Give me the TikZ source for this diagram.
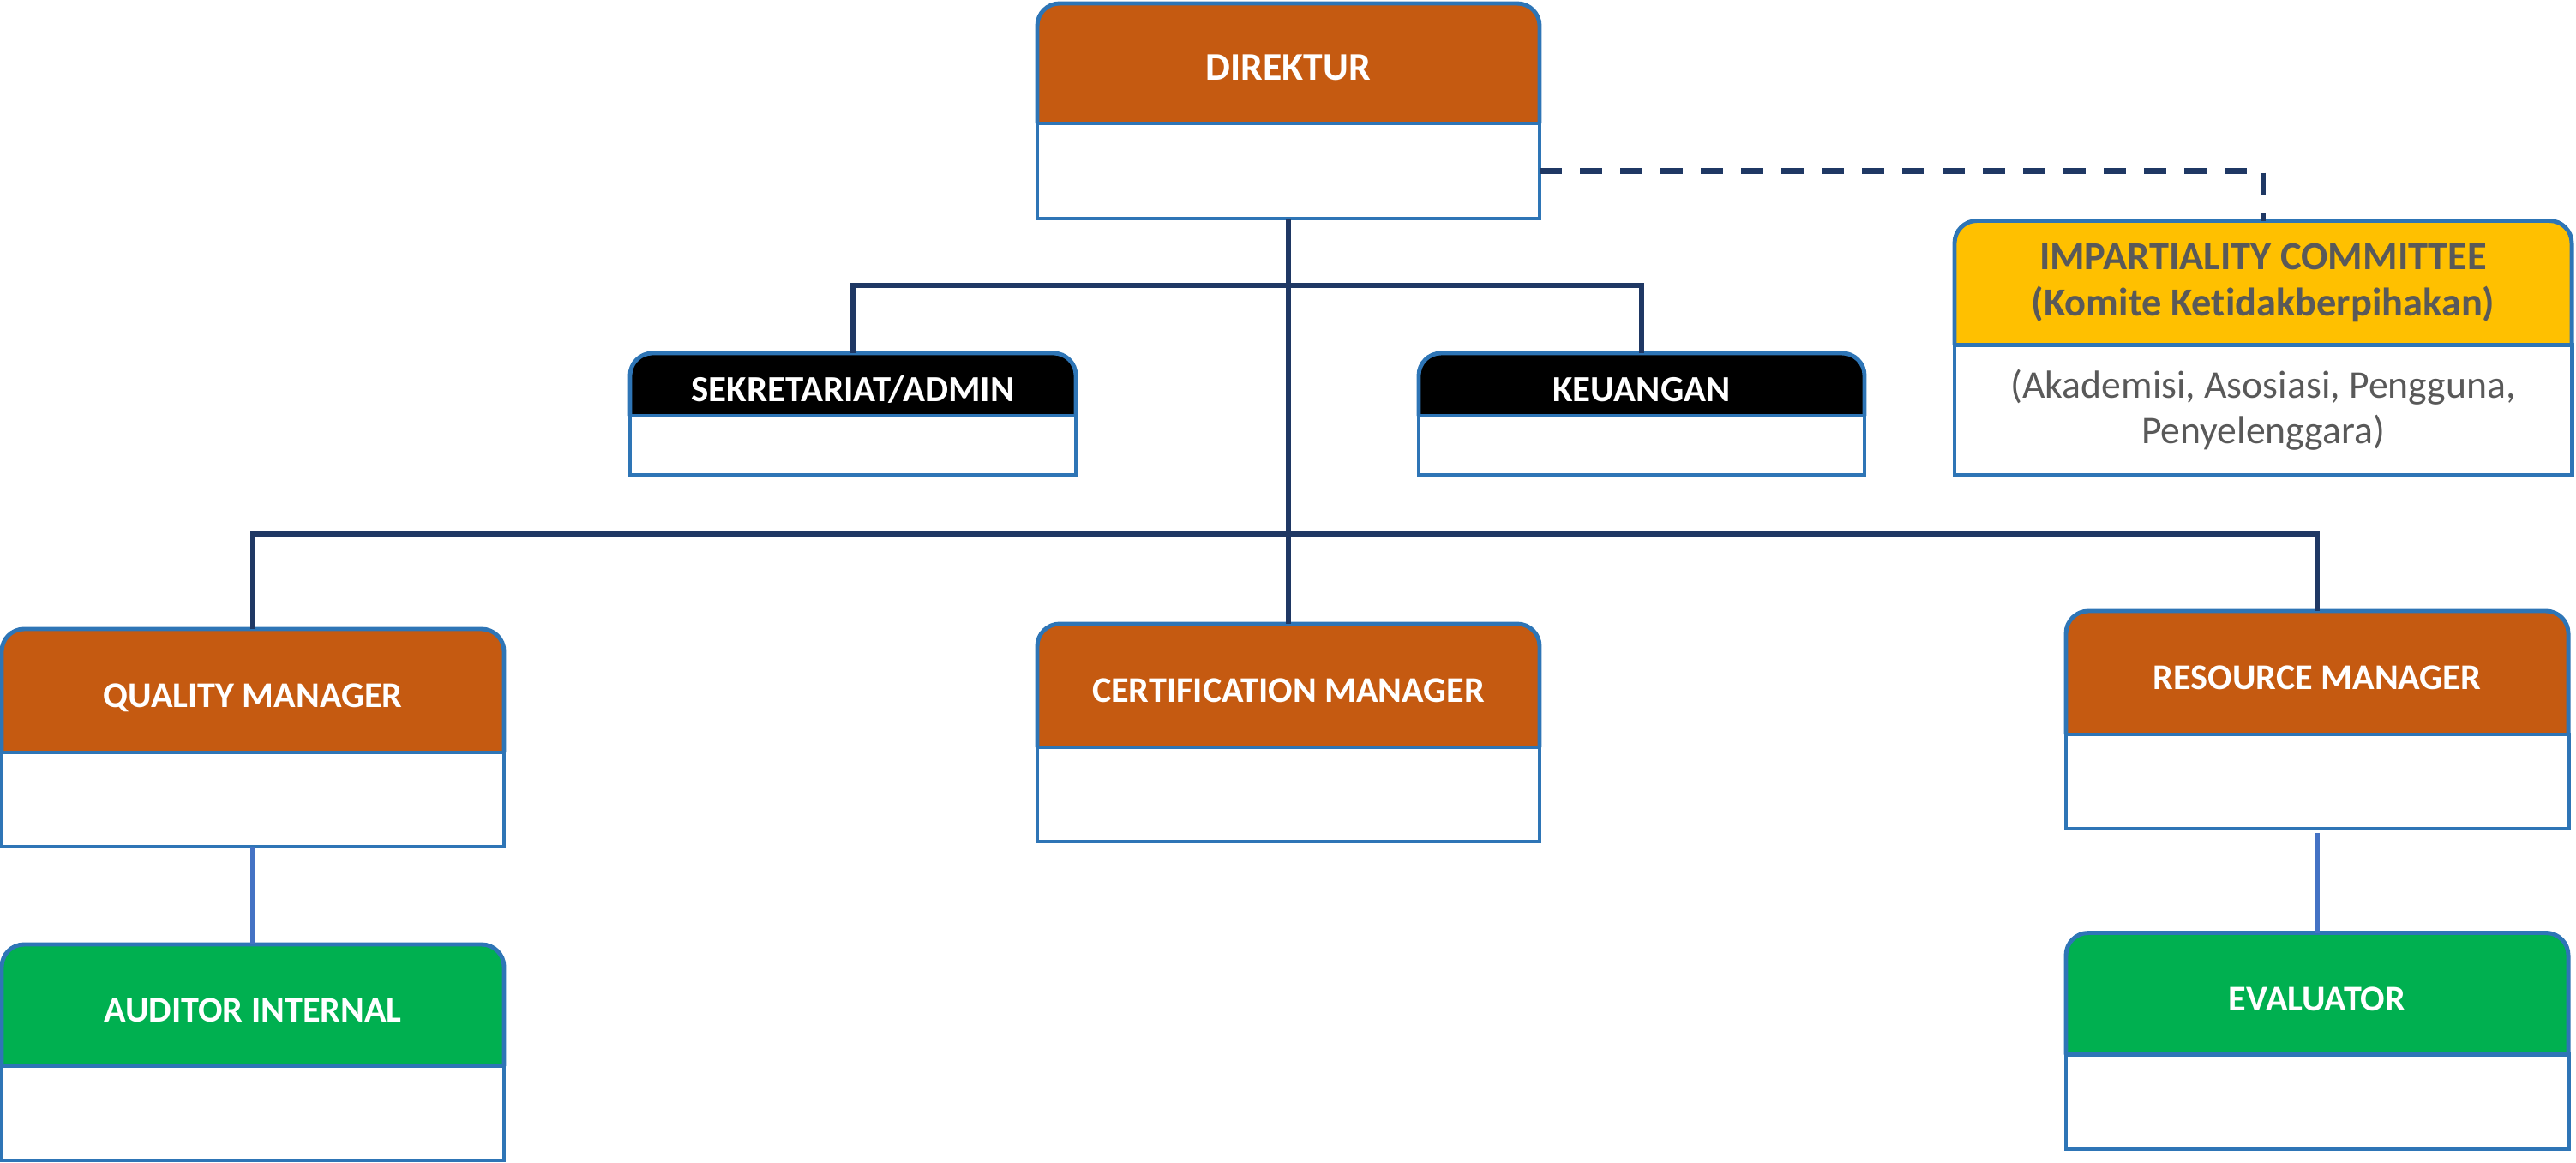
\documentclass[tikz,border=0pt]{standalone}
\usepackage{fontspec}
\setmainfont{Carlito}[Ligatures=NoCommon]
\usepackage{tikz}
\usetikzlibrary{positioning,backgrounds}

\definecolor{hdorange}{HTML}{C55A11}
\definecolor{hdgreen}{HTML}{00B050}
\definecolor{hdyellow}{HTML}{FFC000}
\definecolor{boxline}{HTML}{2E75B6}
\definecolor{linknavy}{HTML}{1F3864}
\definecolor{linkblue}{HTML}{4472C4}
\definecolor{txtgray}{HTML}{595959}

\begin{document}
\begin{tikzpicture}[
    outer sep=0pt,
    hbox/.style={minimum width=5.86cm, minimum height=1.42cm, inner sep=0pt, align=center, text=white, font=\bfseries\fontsize{12}{14}\selectfont},
    head/.style={hbox, text height=11.3pt, text depth=0pt},
    smallhead/.style={head, minimum width=5.20cm, minimum height=0.73cm, font=\bfseries\fontsize{12.2}{14}\selectfont},
    body/.style={draw=boxline, line width=1.4pt, fill=white, minimum width=5.86cm, minimum height=1.10cm, inner sep=0pt, align=center},
    smallbody/.style={body, minimum width=5.20cm, minimum height=0.69cm},
    link/.style={draw=linknavy, line width=1.8pt},
    sublink/.style={draw=linkblue, line width=1.6pt},
    advlink/.style={link, dash pattern=on 0.26cm off 0.21cm}
]
\useasboundingbox (0,0) rectangle (30.05,-13.56);

% top
\node[head, minimum height=1.40cm, font=\bfseries\fontsize{13}{15}\selectfont] (dir) at (15.03,-0.74) {DIREKTUR};
\node[body, minimum height=1.11cm, below=0pt of dir] (dirb) {};

% staff
\node[smallhead] (sek) at (9.95,-4.485) {SEKRETARIAT/ADMIN};
\node[smallbody, below=0pt of sek] (sekb) {};
\node[smallhead] (keu) at (19.15,-4.485) {KEUANGAN};
\node[smallbody, below=0pt of keu] (keub) {};

% committee
\node[hbox, minimum width=7.20cm, minimum height=1.45cm, text=txtgray, font=\bfseries\fontsize{13.2}{15.4}\selectfont] (imp) at (26.40,-3.30)
  {IMPARTIALITY COMMITTEE\\(Komite Ketidakberpihakan)};
\node[body, minimum width=7.20cm, minimum height=1.52cm, text=txtgray, font=\fontsize{13}{15}\selectfont, below=0pt of imp] (impb)
  {(Akademisi, Asosiasi, Pengguna,\\Penyelenggara)};

% managers
\node[head, minimum height=1.44cm] (qm) at (2.95,-8.06) {QUALITY MANAGER};
\node[body, below=0pt of qm] (qmb) {};
\node[head, minimum height=1.44cm] (crt) at (15.03,-8.00) {CERTIFICATION MANAGER};
\node[body, below=0pt of crt] (crtb) {};
\node[head, minimum height=1.44cm] (res) at (27.03,-7.85) {RESOURCE MANAGER};
\node[body, below=0pt of res] (resb) {};

% under managers
\node[head] (aud) at (2.95,-11.73) {AUDITOR INTERNAL};
\node[body, below=0pt of aud] (audb) {};
\node[head] (evl) at (27.03,-11.595) {EVALUATOR};
\node[body, below=0pt of evl] (evlb) {};

\begin{scope}[on background layer]
\foreach \n/\c in {dir/hdorange, sek/black, keu/black, imp/hdyellow, qm/hdorange, crt/hdorange, res/hdorange, aud/hdgreen, evl/hdgreen}
  \filldraw[fill=\c, draw=boxline, line width=1.4pt, rounded corners=0.26cm]
    (\n.south west) -- (\n.north west) -- (\n.north east) -- (\n.south east);
\end{scope}

\coordinate (j1) at (15.03,-3.33);
\coordinate (j2) at (15.03,-6.23);

\draw[link] (dirb.south) -- (crt.north);
\draw[link] (sek.north) |- (j1) -| (keu.north);
\draw[link] (qm.north) |- (j2) -| (res.north);
\draw[advlink] (dirb.east) -| (imp.north);
\draw[sublink] (qmb.south) -- (aud.north);
\draw[sublink, shorten <=1.5pt] (resb.south) -- (evl.north);
\end{tikzpicture}
\end{document}
